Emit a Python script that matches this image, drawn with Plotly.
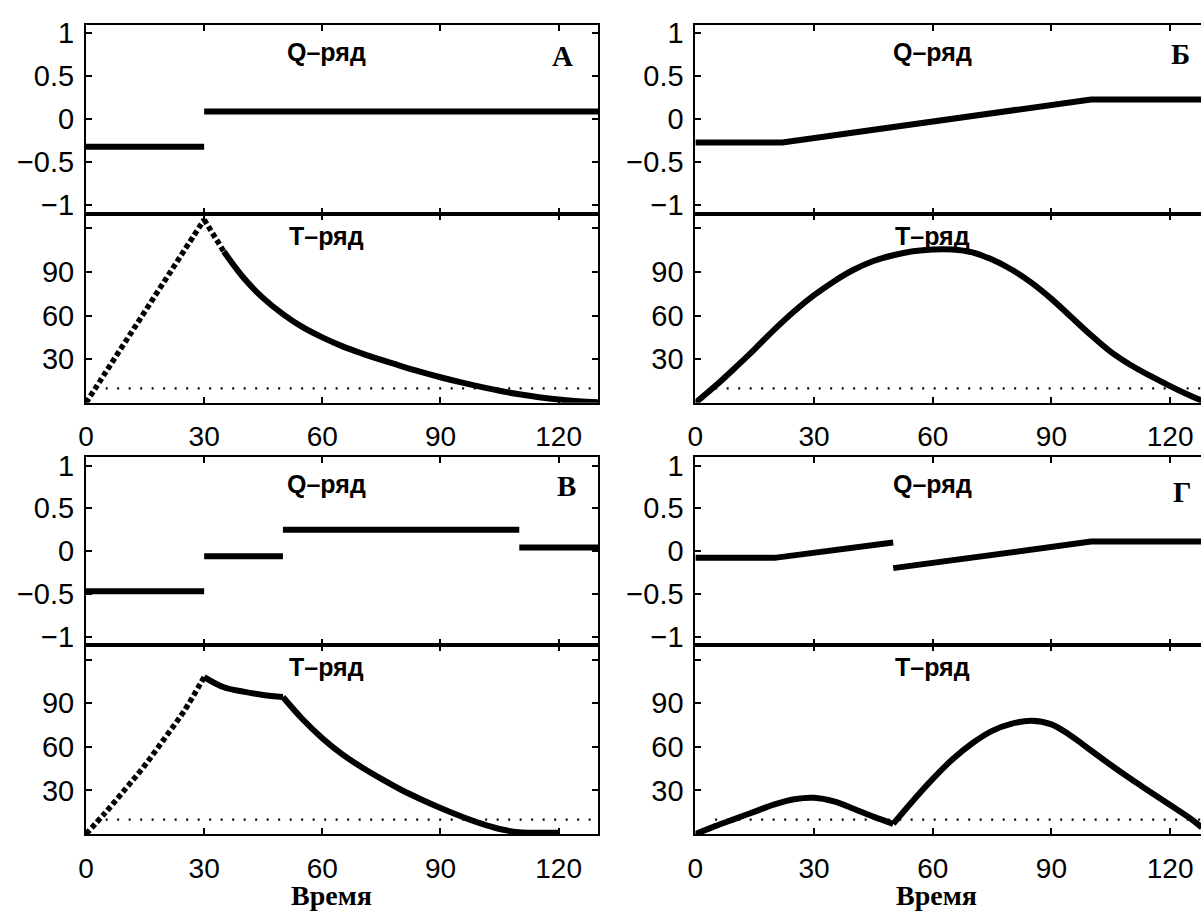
import plotly.graph_objects as go

# ---------------------------------------------------------------- data
TIME_TICKS = [0, 30, 60, 90, 120]
Q_TICKS = [-1, -0.5, 0, 0.5, 1]
Q_TICK_TEXT = ["−1", "−0.5", "0", "0.5", "1"]
T_TICKS = [30, 60, 90, 120]
T_TICK_TEXT = ["30", "60", "90", ""]
THRESHOLD = 10
THRESHOLD_SPAN = [5, 130]

# Panel A: step Q-series, T-series with a single peak
a_q_edges = [0, 30, 130]
a_q_levels = [-0.32, 0.09]
a_t = [0, 5, 10, 15, 20, 25, 30, 35, 40, 45, 50, 55, 60, 65, 70, 75, 80,
       85, 90, 95, 100, 105, 110, 115, 120, 125, 130]
a_T = [0, 21, 42, 63, 84, 105, 126, 104, 86, 72, 61, 52, 45, 39, 34, 29.5,
       25.3, 21.3, 17.6, 14.2, 11.1, 8.3, 5.9, 3.9, 2.3, 1.1, 0.4]
a_breaks = [30, 35]
a_dotted_until = 35

# Panel Б: piecewise-linear Q-series, smooth T-series
b_q_t = [[0, 22, 100, 130]]
b_q = [[-0.27, -0.27, 0.23, 0.23]]
b_t = [0, 5, 10, 15, 20, 25, 30, 35, 40, 45, 50, 55, 60, 65, 70, 75, 80,
       85, 90, 95, 100, 105, 110, 115, 120, 125, 128]
b_T = [0, 11.5, 24, 37, 50.5, 63, 74, 83.5, 91.5, 97.5, 101.5, 104.2, 105.5,
       105.5, 103.5, 98.5, 91.5, 82.5, 71.5, 59, 46.5, 35, 26, 18.5, 11.5, 5, 1.5]
b_breaks = []
b_dotted_until = 0

# Panel В: four-level Q-series
v_q_edges = [0, 30, 50, 110, 130]
v_q_levels = [-0.47, -0.06, 0.25, 0.04]
v_t = [0, 5, 10, 15, 20, 25, 30, 35, 40, 45, 50, 55, 60, 65, 70, 75, 80,
       85, 90, 95, 100, 105, 110, 115, 120]
v_T = [0, 15, 31, 47.5, 66, 85, 108, 101, 98, 95.7, 94.3, 79, 66, 55, 46,
       38, 30.5, 24, 18, 12.5, 7.5, 3.5, 1.3, 1, 1]
v_breaks = [30, 50]
v_dotted_until = 30

# Panel Г: Q-series with a jump at t = 50
g_q_t = [[0, 20, 50], [50, 100, 130]]
g_q = [[-0.08, -0.08, 0.1], [-0.2, 0.11, 0.11]]
g_t = [0, 5, 10, 15, 20, 25, 30, 35, 40, 45, 50, 55, 60, 65, 70, 75, 80,
       85, 90, 95, 100, 105, 110, 115, 120, 125, 128]
g_T = [0, 5.5, 10.5, 15.5, 20.5, 24, 25, 22.5, 17.5, 12, 7, 23, 38, 51.5, 62.5,
       71, 76, 78, 75.5, 67.5, 57.5, 47.5, 38, 29, 20, 11, 4.5]
g_breaks = [50]
g_dotted_until = 0

PANEL_LETTERS = ["A", "Б", "В", "Г"]
Q_TITLE = "Q–ряд"
T_TITLE = "T–ряд"
X_TITLE = "Время"


def steps(edges, levels):
    xs, ys = [], []
    for i, lvl in enumerate(levels):
        xs.append([edges[i], edges[i + 1]])
        ys.append([lvl, lvl])
    return xs, ys


a_qx, a_qy = steps(a_q_edges, a_q_levels)
v_qx, v_qy = steps(v_q_edges, v_q_levels)

# ---------------------------------------------------------------- layout
W, H = 1201, 913
COL_X = [(78.5, 594.0), (692.0, 1201.0)]
COL_RANGE = [[0, 130], [0, 127.8]]
BLOCK_Y = [((18, 210), (210, 402)), ((457, 648), (648, 840))]

TICK_FONT = dict(family="Liberation Sans, Arial, sans-serif", size=29, color="black")
XTICK_FONT = dict(family="Liberation Sans, Arial, sans-serif", size=28, color="black")
SANS_BOLD = dict(family="Liberation Sans, Arial, sans-serif", size=25, color="black")
SERIF_BOLD = dict(family="Liberation Serif, Times New Roman, serif", size=29, color="black")
XTITLE_FONT = dict(family="Liberation Serif, Times New Roman, serif", size=28, color="black")

panels = [
    dict(col=0, blk=0, qx=a_qx, qy=a_qy, t=a_t, T=a_T, br=a_breaks, dot=a_dotted_until,
         lx=61, letter_pos=(121, 0.74), xt=62.4),
    dict(col=1, blk=0, qx=b_q_t, qy=b_q, t=b_t, T=b_T, br=b_breaks, dot=b_dotted_until,
         lx=60, letter_pos=(122.5, 0.76), xt=61),
    dict(col=0, blk=1, qx=v_qx, qy=v_qy, t=v_t, T=v_T, br=v_breaks, dot=v_dotted_until,
         lx=61, letter_pos=(122, 0.76), xt=62.4),
    dict(col=1, blk=1, qx=g_q_t, qy=g_q, t=g_t, T=g_T, br=g_breaks, dot=g_dotted_until,
         lx=60, letter_pos=(123, 0.69), xt=61),
]

fig = go.Figure()
layout = dict(width=W, height=H, margin=dict(l=0, r=0, t=0, b=0),
              paper_bgcolor="white", plot_bgcolor="white", showlegend=False,
              annotations=[])

axis_common = dict(showline=True, linecolor="black", linewidth=2, ticks="inside",
                   ticklen=6, tickwidth=1.5, tickcolor="black", showgrid=False,
                   zeroline=False, tickfont=TICK_FONT, fixedrange=True)

LINE_W = 6


def px_to_paper_y(p):
    return 1 - p / H


for p_i, pnl in enumerate(panels):
    x0, x1 = COL_X[pnl["col"]]
    xdom = [x0 / W, x1 / W]
    for row in range(2):
        k = 2 * p_i + row + 1
        yt, yb = BLOCK_Y[pnl["blk"]][row]
        ydom = [px_to_paper_y(yb), px_to_paper_y(yt)]
        xa = dict(axis_common, domain=xdom, range=COL_RANGE[pnl["col"]],
                  tickvals=TIME_TICKS, anchor=f"y{k}", mirror="allticks",
                  showticklabels=(row == 1), ticklabelstandoff=8,
                  tickfont=XTICK_FONT)
        if row == 0:
            ya = dict(axis_common, domain=ydom, range=[-1.1, 1.1], tickvals=Q_TICKS,
                      ticktext=Q_TICK_TEXT, anchor=f"x{k}")
        else:
            ya = dict(axis_common, domain=ydom, range=[0, 130], tickvals=T_TICKS,
                      ticktext=T_TICK_TEXT, anchor=f"x{k}")
        ya["mirror"] = "allticks" if pnl["col"] == 0 else False
        ya["ticklabelstandoff"] = 4
        layout[f"xaxis{k}"] = xa
        layout[f"yaxis{k}"] = ya

        xr, yr = f"x{k}", f"y{k}"
        if row == 0:
            for sx, sy in zip(pnl["qx"], pnl["qy"]):
                fig.add_trace(go.Scatter(x=sx, y=sy, mode="lines", xaxis=xr, yaxis=yr,
                                         line=dict(color="black", width=LINE_W),
                                         hoverinfo="skip"))
            layout["annotations"].append(dict(
                x=pnl["lx"], y=0.78, xref=xr, yref=yr, text=f"<b>{Q_TITLE}</b>",
                showarrow=False, font=SANS_BOLD, xanchor="center", yanchor="middle"))
            lx, ly = pnl["letter_pos"]
            layout["annotations"].append(dict(
                x=lx, y=ly, xref=xr, yref=yr, text=f"<b>{PANEL_LETTERS[p_i]}</b>",
                showarrow=False, font=SERIF_BOLD, xanchor="center", yanchor="middle"))
        else:
            # threshold level
            fig.add_trace(go.Scatter(x=THRESHOLD_SPAN, y=[THRESHOLD, THRESHOLD],
                                     mode="lines", xaxis=xr, yaxis=yr,
                                     line=dict(color="black", width=2.2, dash="2px,9.5px"),
                                     hoverinfo="skip"))
            # T-series split at its kinks; steep early parts drawn as dots
            t, T = pnl["t"], pnl["T"]
            cuts = [t[0]] + pnl["br"] + [t[-1]]
            for s in range(len(cuts) - 1):
                lo, hi = cuts[s], cuts[s + 1]
                idx = [i for i, tv in enumerate(t) if lo <= tv <= hi]
                dotted = hi <= pnl["dot"]
                fig.add_trace(go.Scatter(
                    x=[t[i] for i in idx], y=[T[i] for i in idx], mode="lines",
                    xaxis=xr, yaxis=yr, hoverinfo="skip",
                    line=dict(color="black", width=5.5 if dotted else LINE_W,
                              shape="spline", smoothing=1.0,
                              dash="5px,3px" if dotted else "solid")))
            layout["annotations"].append(dict(
                x=pnl["lx"], y=115, xref=xr, yref=yr, text=f"<b>{T_TITLE}</b>",
                showarrow=False, font=SANS_BOLD, xanchor="center", yanchor="middle"))
            if pnl["blk"] == 1:
                layout["annotations"].append(dict(
                    x=pnl["xt"], y=px_to_paper_y(902), xref=xr, yref="paper",
                    text=f"<b>{X_TITLE}</b>", showarrow=False, font=XTITLE_FONT,
                    xanchor="center", yanchor="middle", borderpad=0))

fig.update_layout(**layout)
fig.write_html("out.html")
